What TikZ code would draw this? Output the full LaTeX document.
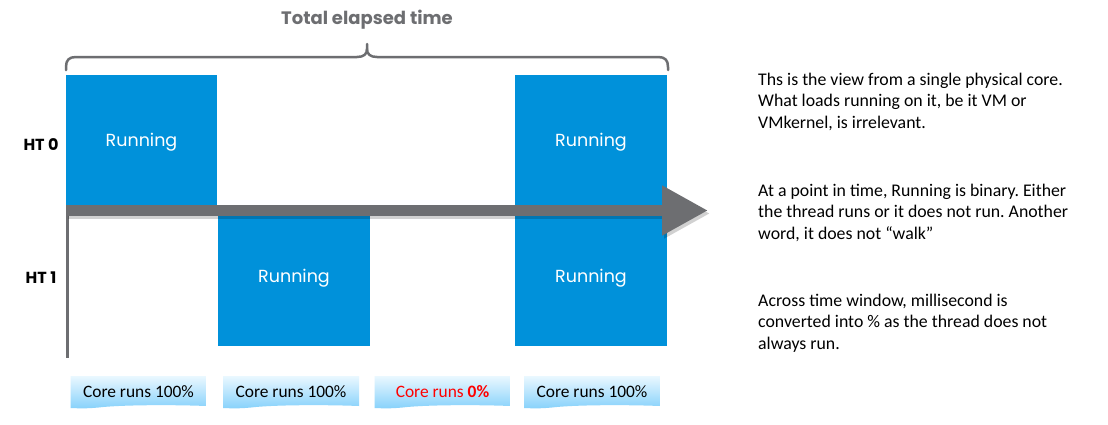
\documentclass[tikz,border=0pt]{standalone}
\usepackage{fontspec}
\setmainfont{Carlito}
\newfontfamily\geo{Poppins}
\usetikzlibrary{arrows.meta}
\definecolor{vmblue}{HTML}{0091DA}
\definecolor{axgray}{HTML}{6D6E71}
\definecolor{cbtop}{HTML}{EAF8FF}
\definecolor{cbbot}{HTML}{86D1FB}
\definecolor{redtxt}{HTML}{FF0000}
\frenchspacing
\tikzset{
  runbox/.style={fill=vmblue, draw=none, inner sep=0pt, text=white, font=\geo\fontsize{17.5}{20}\selectfont},
  runtext/.style={inner sep=0pt, text=white, font=\geo\fontsize{17.5}{20}\selectfont},
  htlabel/.style={inner sep=0pt, text=black, font=\geo\bfseries\fontsize{16}{19}\selectfont},
  titletext/.style={inner sep=0pt, text=axgray, font=\geo\bfseries\fontsize{18}{21}\selectfont},
  coretext/.style={inner sep=0pt, text=black, font=\fontsize{17.4}{20}\selectfont},
  notetext/.style={inner sep=0pt, anchor=north west, align=left, text=black, font=\fontsize{17.8}{21.8}\selectfont},
  axisline/.style={draw=axgray, line width=2.5pt},
  bracestyle/.style={draw=axgray, line width=2.5pt, line cap=round, line join=round},
}
\newcommand{\coreshape}[1]{%
  \shade[top color=cbtop, bottom color=cbbot]
    (#1-68,376) -- (#1+68,376) -- (#1+68,406)
    .. controls (#1+30,404.5) and (#1-20,405) .. (#1-40,407.5)
    .. controls (#1-55,409) and (#1-65,408) .. (#1-68,408) -- cycle;
}
\begin{document}
\begin{tikzpicture}[x=1pt,y=-1pt]
\useasboundingbox (0,0) rectangle (1108,424);
\fill[white] (0,0) rectangle (1108,424);

% title and brace
\node[titletext] (title) at (367,20) {Total elapsed time};
\coordinate (bl) at (66,70);
\coordinate (br) at (668,70);
\coordinate (bc) at (367,44);
\draw[bracestyle] (bl) -- (66,67) .. controls (66,60) and (69,57) .. (76,57)
  -- (357,57) .. controls (364,57) and (367,54) .. (367,49) -- (bc);
\draw[bracestyle] (br) -- (668,67) .. controls (668,60) and (665,57) .. (658,57)
  -- (377,57) .. controls (370,57) and (367,54) .. (367,49);

% running boxes
\node[runbox, minimum width=151pt, minimum height=135pt] (r1) at (141.5,142.5) {Running};
\node[runbox, minimum width=152pt, minimum height=135pt] (r2) at (294,278) {Running};
\node[runbox, minimum width=152pt, minimum height=270.5pt] (r3) at (591,210.5) {};
\node[runtext] (r3a) at (591,142) {Running};
\node[runtext] (r3b) at (591,278) {Running};

% HT labels
\node[htlabel] (ht0) at (41,145) {HT 0};
\node[htlabel] (ht1) at (41,278) {HT 1};

% axes
\coordinate (vt) at (67.5,215);
\coordinate (vb) at (67.5,358);
\draw[axisline] (vt) -- (vb);
\coordinate (ax0) at (66,210.5);
\coordinate (ax1) at (708,210.5);
\begin{scope}[transform canvas={shift={(2pt,-3pt)}}]
\draw[draw=black, opacity=0.18, line width=11pt, -{Triangle[length=46pt,width=47pt]}] (ax0) -- (ax1);
\end{scope}
\draw[draw=axgray, line width=11pt, -{Triangle[length=46pt,width=47pt]}] (ax0) -- (ax1);

% core boxes
\coreshape{138.5}
\node[coretext] (c1) at (138.5,391.5) {Core runs 100\%};
\coreshape{291}
\node[coretext] (c2) at (291,391.5) {Core runs 100\%};
\coreshape{442.5}
\node[coretext, text=redtxt] (c3) at (442.5,391.5) {Core runs \textbf{0\%}};
\coreshape{592}
\node[coretext] (c4) at (592,391.5) {Core runs 100\%};

% notes
\node[notetext] (n1) at (758,72.5) {Ths is the view from a single physical core.\\What loads running on it, be it VM or\\VMkernel, is irrelevant.};
\node[notetext] (n2) at (758,183.5) {At a point in time, Running is binary. Either\\the thread runs or it does not run. Another\\word, it does not “walk”};
\node[notetext] (n3) at (758,293.5) {Across time window, millisecond is\\converted into \% as the thread does not\\always run.};
\end{tikzpicture}
\end{document}
